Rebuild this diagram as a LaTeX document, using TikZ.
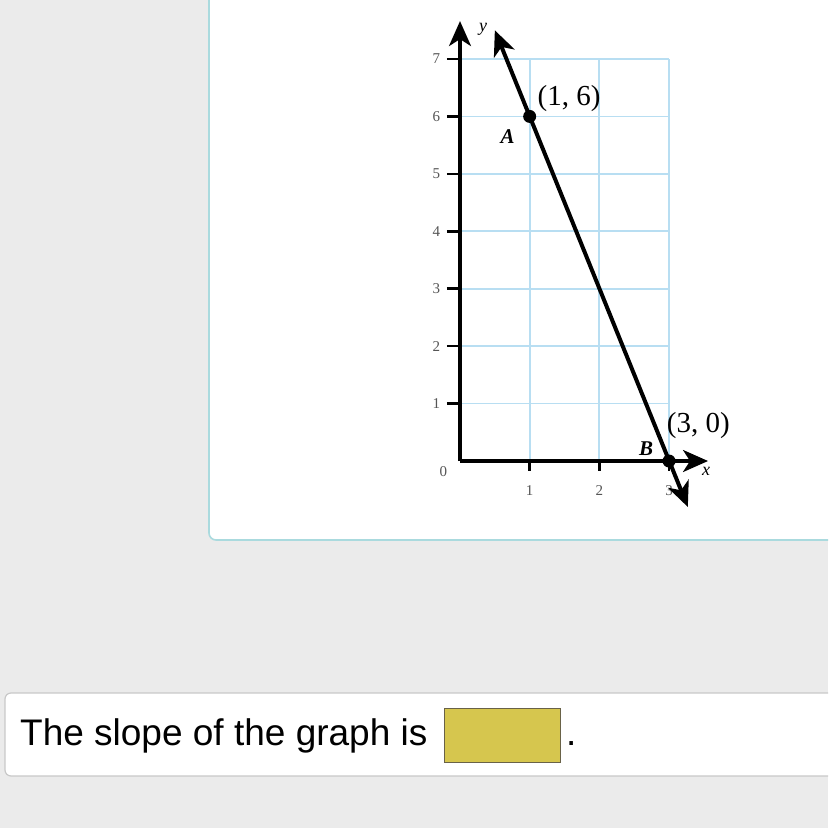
\documentclass[tikz,border=0pt]{standalone}
\usepackage{fontspec}
\setmainfont{Liberation Serif}
\setsansfont{Liberation Sans}
\usetikzlibrary{arrows.meta, positioning}
\definecolor{pagegray}{RGB}{235,235,235}
\definecolor{panelteal}{RGB}{170,218,222}
\definecolor{gridblue}{RGB}{184,222,242}
\definecolor{answeryellow}{RGB}{214,198,78}
\definecolor{answerrim}{RGB}{105,98,72}
\definecolor{boxgray}{RGB}{200,200,200}
\definecolor{ticktext}{RGB}{85,85,85}

\begin{document}
\begin{tikzpicture}[x=1pt, y=-1pt, font=\rmfamily]
  % Styles
  \tikzstyle{gridline} = [gridblue, line width=1.8pt]
  \tikzstyle{axis} = [line width=3.2pt, -{Stealth[length=25pt, width=22pt, inset=7pt]}]
  \tikzstyle{graphline} = [line width=4pt, {Stealth[length=25pt, width=22pt, inset=7pt]}-{Stealth[length=25pt, width=22pt, inset=7pt]}]
  \tikzstyle{tick} = [line width=2.6pt]
  \tikzstyle{ticklabel} = [font=\fontsize{15}{15}\selectfont, text=ticktext, inner sep=1pt]
  \tikzstyle{dot} = [circle, fill=black, inner sep=0pt, minimum size=13pt]
  \tikzstyle{pointlabel} = [font=\fontsize{29}{29}\selectfont, inner sep=1pt]
  \tikzstyle{pointname} = [font=\fontsize{21}{21}\selectfont\bfseries\itshape, inner sep=1pt]

  \useasboundingbox (0,0) rectangle (828,828);
  \clip (0,0) rectangle (828,828);

  % Page and panel
  \fill[pagegray] (0,0) rectangle (828,828);
  \draw[panelteal, line width=1.6pt, fill=white, rounded corners=7pt] (850,-20) -- (209,-20) -- (209,540) -- (850,540);

  % Graph
  \begin{scope}[shift={(460,461)}, x=69.67pt, y=57.43pt]
    % Grid
    \foreach \k in {1,...,7}
      \draw[gridline] (0,\k) -- (3,\k);
    \foreach \k in {1,2,3}
      \draw[gridline] (\k,0) -- (\k,7);

    % Axes
    \coordinate (origin) at (0,0);
    \coordinate (yTip) at (0,7.66);
    \coordinate (xTip) at (3.56,0);
    \draw[axis] (origin) -- (yTip);
    \draw[axis] (origin) -- (xTip);
    \node (ylab) [right=19pt of yTip, yshift=-8pt, font=\fontsize{18}{18}\selectfont\itshape, inner sep=0pt] {y};
    \node (xlab) [below=6pt of xTip, xshift=-2pt, font=\fontsize{18}{18}\selectfont\itshape, inner sep=0pt] {x};

    % Ticks
    \foreach \k in {1,...,7} {
      \draw[tick] (-0.19,\k) -- (0,\k);
      \node (ylabel\k) [ticklabel] at (-0.34,\k) {\k};
    }
    \foreach \k in {1,2,3} {
      \draw[tick] (\k,0) -- (\k,-0.18);
      \node (xlabel\k) [ticklabel] at (\k,-0.52) {\k};
    }
    \node (zero) [ticklabel] at (-0.24,-0.19) {0};

    % Line through A and B
    \coordinate (lineTop) at (0.5,7.5);
    \coordinate (lineBot) at (3.27,-0.8);
    \draw[graphline] (lineTop) -- (lineBot);
    \node (ptA) [dot] at (1,6) {};
    \node (ptB) [dot] at (3,0) {};

    % Point labels
    \node (labA) [pointlabel, above right=-1pt and 2pt of ptA] {(1, 6)};
    \node (nameA) [pointname, below left=7pt and 9pt of ptA] {A};
    \node (labB) [pointlabel, above right=16pt and -8pt of ptB] {(3, 0)};
    \node (nameB) [pointname, above left=0pt and 10pt of ptB] {B};
  \end{scope}

  % Answer row
  \draw[boxgray, line width=1.2pt, fill=white, rounded corners=6pt] (5,693) rectangle (850,776);
  \node (prompt) [anchor=base west, inner sep=0pt, font=\sffamily\fontsize{37}{37}\selectfont] at (20,745) {The slope of the graph is};
  \node (answer) [right=16pt of prompt, draw=answerrim, line width=1.2pt, fill=answeryellow, minimum width=116pt, minimum height=54pt] {};
  \node (stop) [anchor=base west, inner sep=0pt, xshift=5pt, font=\sffamily\fontsize{37}{37}\selectfont] at (answer.east |- prompt.base) {.};
\end{tikzpicture}
\end{document}
